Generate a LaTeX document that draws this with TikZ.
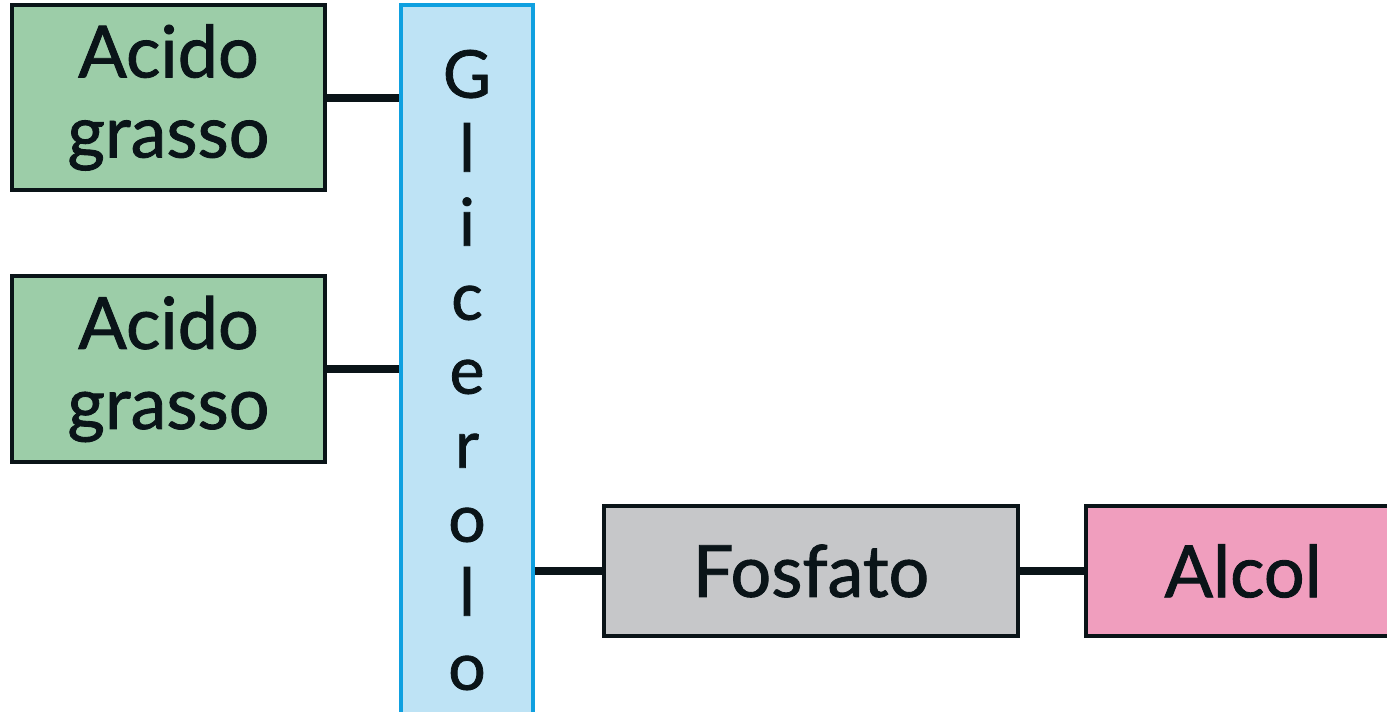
\documentclass[tikz,border=0pt]{standalone}
\usepackage{fontspec}
\setmainfont{Lato}[FakeBold=1.2]
\definecolor{fagreen}{HTML}{9CCDA8}
\definecolor{glblue}{HTML}{BEE3F5}
\definecolor{glborder}{HTML}{0FA0E0}
\definecolor{fsgray}{HTML}{C6C7C9}
\definecolor{alpink}{HTML}{F09EBE}
\definecolor{ink}{HTML}{0A1418}
\tikzset{
  box/.style={draw=ink, line width=4.5pt, rectangle, inner sep=0pt, align=center, text=ink,
    font=\fontsize{72}{80}\selectfont},
  link/.style={draw=ink, line width=8pt}
}
\begin{document}
\begin{tikzpicture}[x=1pt,y=-1pt]
\useasboundingbox (0,0) rectangle (1387,712);
\node[box, fill=fagreen, minimum width=313pt, minimum height=185pt] (fa1) at (168.5,97.5) {Acido\\grasso};
\node[box, fill=fagreen, minimum width=313pt, minimum height=186pt] (fa2) at (168.5,369) {Acido\\grasso};
\node[box, draw=glborder, line width=3.5pt, fill=glblue, minimum width=132pt, minimum height=730pt,
  font=\fontsize{66}{74}\selectfont] (gl) at (467,370) {G\\l\\i\\c\\e\\r\\o\\l\\o};
\node[box, fill=fsgray, minimum width=414pt, minimum height=130pt] (fs) at (811,571) {Fosfato};
\node[box, fill=alpink, minimum width=314pt, minimum height=130pt] (al) at (1243,571) {Alcol};
\draw[link] (fa1.east) -- (fa1.east -| gl.west);
\draw[link] (fa2.east) -- (fa2.east -| gl.west);
\draw[link] (fs.west -| gl.east) -- (fs.west);
\draw[link] (fs.east) -- (al.west);
\end{tikzpicture}
\end{document}
